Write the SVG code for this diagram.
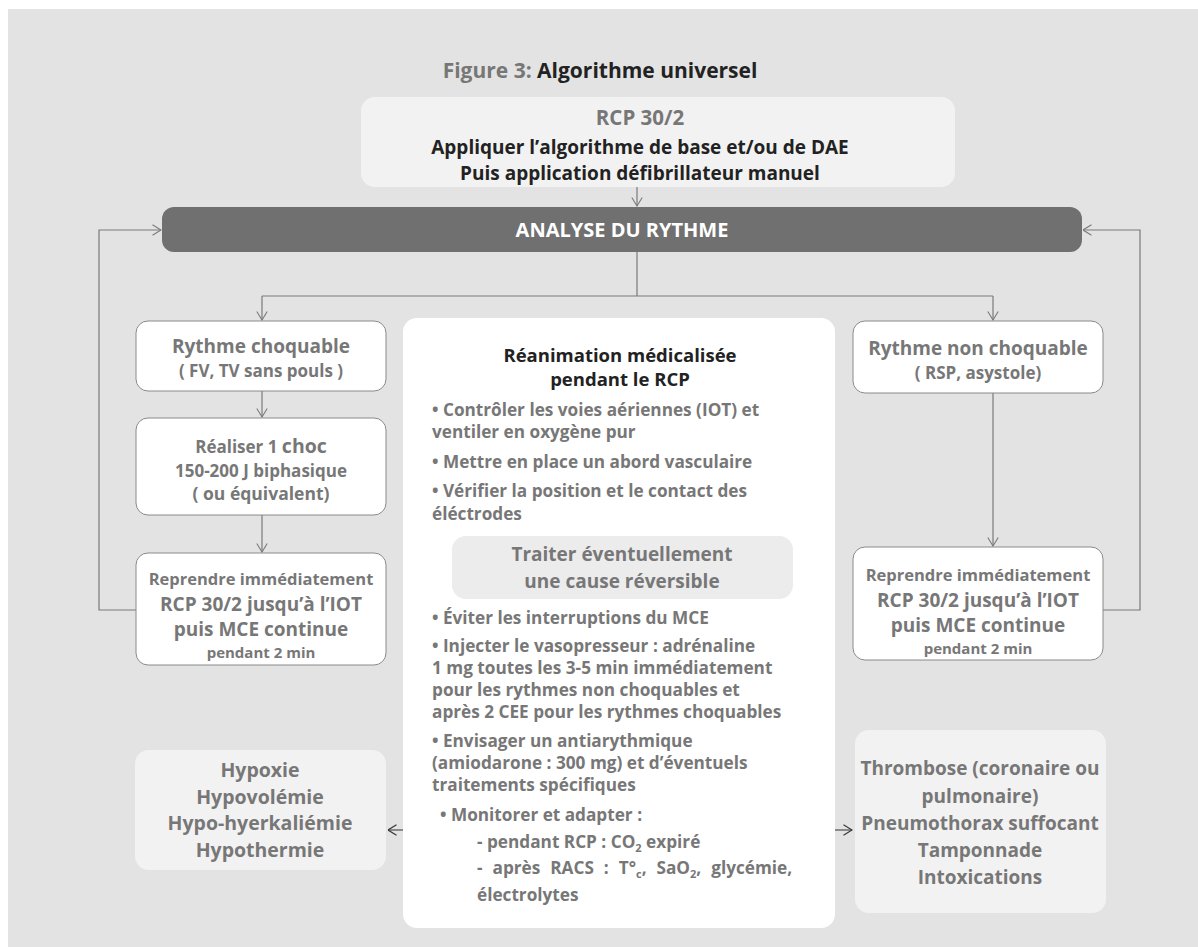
<svg xmlns="http://www.w3.org/2000/svg" width="1198" height="947" viewBox="0 0 1198 947">
  <style>
    text { font-family: "Open Sans", "Noto Sans", "Liberation Sans", sans-serif; font-weight: 700; }
    .g { fill: #777777; }
    .d { fill: #222222; }
    .w { fill: #ffffff; }
    .c { text-anchor: middle; }
    .box { fill: #ffffff; stroke: #8a8a8a; stroke-width: 1; }
    .soft { fill: #f2f2f2; }
    .link { fill: none; stroke: #7a7a7a; stroke-width: 1.2; }
    .link2 { fill: none; stroke: #333333; stroke-width: 1.2; }
  </style>
  <defs>
    <marker id="arr" viewBox="0 0 10 12" refX="9.5" refY="6" markerWidth="10" markerHeight="12" markerUnits="userSpaceOnUse" orient="auto">
      <path d="M1,0.8 L9.5,6 L1,11.2" fill="none" stroke="#7a7a7a" stroke-width="1.1"/>
    </marker>
    <marker id="arrD" viewBox="0 0 10 12" refX="9.5" refY="6" markerWidth="10" markerHeight="12" markerUnits="userSpaceOnUse" orient="auto">
      <path d="M1,0.8 L9.5,6 L1,11.2" fill="none" stroke="#333333" stroke-width="1.1"/>
    </marker>
  </defs>

  <!-- panel background -->
  <rect x="8" y="9" width="1190" height="938" fill="#e3e3e3"/>

  <!-- title -->
  <text x="600" y="78" class="c" font-size="21"><tspan class="g">Figure 3: </tspan><tspan class="d">Algorithme universel</tspan></text>

  <!-- connectors -->
  <g id="connectors">
    <path class="link" d="M637,187 V206" marker-end="url(#arr)"/>
    <path class="link" d="M637,252 V296 M262,296 H993"/>
    <path class="link" d="M262,296 V320" marker-end="url(#arr)"/>
    <path class="link" d="M993,296 V320" marker-end="url(#arr)"/>
    <path class="link" d="M262,391 V417" marker-end="url(#arr)"/>
    <path class="link" d="M262,515 V552" marker-end="url(#arr)"/>
    <path class="link" d="M993,393 V546" marker-end="url(#arr)"/>
    <path class="link" d="M136,610 H99 V230 H161" marker-end="url(#arr)"/>
    <path class="link" d="M1103,610 H1140 V230 H1083" marker-end="url(#arr)"/>
    <path class="link2" d="M452,567 H414 V830 H388" marker-end="url(#arrD)"/>
    <path class="link2" d="M793,567 H825 V830 H852" marker-end="url(#arrD)"/>
  </g>

  <!-- start -->
  <g id="start">
    <rect x="361" y="97" width="594" height="90" rx="14" class="soft"/>
    <text x="640" y="125" class="c g" font-size="20.5">RCP 30/2</text>
    <text x="640" y="154" class="c d" font-size="19">Appliquer l’algorithme de base et/ou de DAE</text>
    <text x="640" y="180" class="c d" font-size="19">Puis application défibrillateur manuel</text>
  </g>

  <!-- rhythm analysis -->
  <g id="analyse">
    <rect x="162" y="207" width="920" height="45" rx="12" fill="#707070"/>
    <text x="622" y="237" class="c w" font-size="20">ANALYSE DU RYTHME</text>
  </g>

  <!-- shockable branch -->
  <g id="choquable">
    <rect x="136" y="321" width="250" height="70" rx="12" class="box"/>
    <text x="261" y="353" class="c g" font-size="19">Rythme choquable</text>
    <text x="261" y="377" class="c g" font-size="17">( FV, TV sans pouls )</text>
  </g>
  <g id="choc">
    <rect x="136" y="418" width="250" height="97" rx="12" class="box"/>
    <text x="261" y="453" class="c g" font-size="17">Réaliser 1 <tspan font-size="19.5">choc</tspan></text>
    <text x="261" y="477" class="c g" font-size="17">150-200 J biphasique</text>
    <text x="261" y="500" class="c g" font-size="17.5">( ou équivalent)</text>
  </g>
  <g id="rcp-gauche">
    <rect x="136" y="553" width="250" height="112" rx="12" class="box"/>
    <text x="261" y="585" class="c g" font-size="16.5">Reprendre immédiatement</text>
    <text x="261" y="611" class="c g" font-size="19">RCP 30/2 jusqu’à l’IOT</text>
    <text x="261" y="636" class="c g" font-size="19">puis MCE continue</text>
    <text x="261" y="658" class="c g" font-size="15">pendant 2 min</text>
  </g>

  <!-- non-shockable branch -->
  <g id="non-choquable">
    <rect x="853" y="321" width="250" height="72" rx="12" class="box"/>
    <text x="978" y="355" class="c g" font-size="19">Rythme non choquable</text>
    <text x="978" y="379" class="c g" font-size="17">( RSP, asystole)</text>
  </g>
  <g id="rcp-droite">
    <rect x="853" y="547" width="250" height="113" rx="12" class="box"/>
    <text x="978" y="581" class="c g" font-size="16.5">Reprendre immédiatement</text>
    <text x="978" y="607" class="c g" font-size="19">RCP 30/2 jusqu’à l’IOT</text>
    <text x="978" y="632" class="c g" font-size="19">puis MCE continue</text>
    <text x="978" y="654" class="c g" font-size="15">pendant 2 min</text>
  </g>

  <!-- advanced life support panel -->
  <g id="reanimation">
    <rect x="403" y="318" width="432" height="610" rx="14" fill="#ffffff"/>
    <text x="620" y="362" class="c d" font-size="18.5">Réanimation médicalisée</text>
    <text x="620" y="386" class="c d" font-size="18.5">pendant le RCP</text>
    <g class="g" font-size="17.2">
      <text x="432" y="416">• Contrôler les voies aériennes (IOT) et</text>
      <text x="432" y="438">ventiler en oxygène pur</text>
      <text x="432" y="468">• Mettre en place un abord vasculaire</text>
      <text x="432" y="497">• Vérifier la position et le contact des</text>
      <text x="432" y="520">éléctrodes</text>
      <text x="432" y="624">• Éviter les interruptions du MCE</text>
      <text x="432" y="652">• Injecter le vasopresseur : adrénaline</text>
      <text x="432" y="674">1 mg toutes les 3-5 min immédiatement</text>
      <text x="432" y="696">pour les rythmes non choquables et</text>
      <text x="432" y="718">après 2 CEE pour les rythmes choquables</text>
      <text x="432" y="747">• Envisager un antiarythmique</text>
      <text x="432" y="769">(amiodarone : 300 mg) et d’éventuels</text>
      <text x="432" y="791">traitements spécifiques</text>
      <text x="440" y="821">• Monitorer et adapter :</text>
      <text x="477" y="848">- pendant RCP : CO<tspan font-size="11" dy="4">2</tspan><tspan dy="-4"> expiré</tspan></text>
      <text x="477" y="874" word-spacing="5.5">- après RACS : T°<tspan font-size="11" dy="4">c</tspan><tspan dy="-4">, SaO</tspan><tspan font-size="11" dy="4">2</tspan><tspan dy="-4">, glycémie,</tspan></text>
      <text x="477" y="901">électrolytes</text>
    </g>
  </g>
  <g id="cause">
    <rect x="452" y="536" width="341" height="63" rx="14" fill="#ececec"/>
    <text x="622" y="561" class="c g" font-size="19">Traiter éventuellement</text>
    <text x="622" y="588" class="c g" font-size="19">une cause réversible</text>
  </g>

  <!-- reversible causes -->
  <g id="causes-h">
    <rect x="135" y="750" width="251" height="120" rx="14" class="soft"/>
    <text x="260" y="777" class="c g" font-size="19.5">Hypoxie</text>
    <text x="260" y="804" class="c g" font-size="19.5">Hypovolémie</text>
    <text x="260" y="830" class="c g" font-size="19.5">Hypo-hyerkaliémie</text>
    <text x="260" y="857" class="c g" font-size="19.5">Hypothermie</text>
  </g>
  <g id="causes-t">
    <rect x="855" y="730" width="251" height="183" rx="14" class="soft"/>
    <text x="980" y="775" class="c g" font-size="19">Thrombose (coronaire ou</text>
    <text x="980" y="803" class="c g" font-size="19">pulmonaire)</text>
    <text x="980" y="830" class="c g" font-size="19">Pneumothorax suffocant</text>
    <text x="980" y="857" class="c g" font-size="19">Tamponnade</text>
    <text x="980" y="884" class="c g" font-size="19">Intoxications</text>
  </g>
</svg>
